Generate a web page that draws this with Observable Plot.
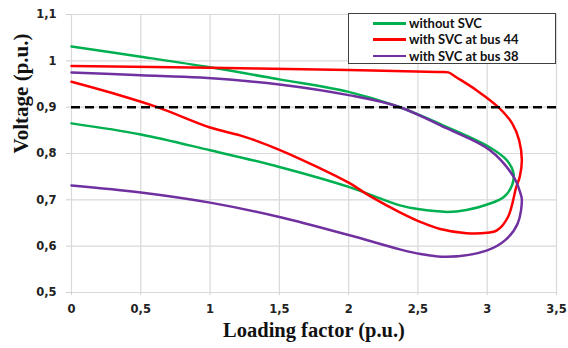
<!DOCTYPE html>
<html><head><meta charset="utf-8">
<script src="https://cdn.jsdelivr.net/npm/d3@7"></script>
<script src="https://cdn.jsdelivr.net/npm/@observablehq/plot@0.6"></script>
<style>
body{margin:0;background:#fff;}
#wrap{position:relative;width:568px;height:348px;}
#legend{position:absolute;left:348px;top:13px;width:206px;height:49px;border:1.5px solid #404040;background:#fff;font:bold 13px Lato, sans-serif;color:#111;}
.row{position:absolute;left:0;height:16px;line-height:16px;white-space:nowrap;}
.sw{position:absolute;left:24px;top:7px;width:33px;height:2.5px;}
.lb{position:absolute;left:60px;top:0;}
</style></head><body><div id="wrap"></div>
<script>
const seriesNames = ["without SVC", "with SVC at bus 44", "with SVC at bus 38"];
const seriesColors = ["#00b050", "#ff0000", "#7030a0"];

// without SVC (upper branch to nose, then lower branch back)
const withoutSvcX = [0, 0.5, 1, 1.5, 2, 2.35, 2.71, 3.02, 3.14, 3.19, 3.18, 3.12, 3.0, 2.85, 2.71, 2.5, 2.37, 2, 1.5, 1, 0.5, 0];
const withoutSvcY = [1.031, 1.009, 0.986, 0.960, 0.933, 0.902, 0.857, 0.813, 0.786, 0.757, 0.732, 0.706, 0.690, 0.678, 0.674, 0.680, 0.688, 0.728, 0.771, 0.807, 0.841, 0.865];

// with SVC at bus 44
const bus44X = [0, 1, 2, 2.64, 2.72, 2.78, 2.92, 3.08, 3.18, 3.23, 3.25, 3.235, 3.21, 3.15, 3.07, 3.0, 2.85, 2.66, 2.52, 2.37, 2.155, 2.0, 1.78, 1.5, 1.25, 1.0, 0.62, 0.3, 0];
const bus44Y = [0.989, 0.985, 0.980, 0.976, 0.975, 0.964, 0.937, 0.900, 0.865, 0.829, 0.786, 0.750, 0.728, 0.663, 0.634, 0.629, 0.628, 0.637, 0.652, 0.673, 0.708, 0.737, 0.770, 0.808, 0.836, 0.856, 0.900, 0.930, 0.955];

// with SVC at bus 38
const bus38X = [0, 0.5, 0.93, 1.5, 2, 2.35, 2.71, 3.02, 3.19, 3.24, 3.25, 3.22, 3.13, 3.0, 2.71, 2.52, 2.37, 2.0, 1.5, 1.0, 0.5, 0];
const bus38Y = [0.975, 0.969, 0.964, 0.949, 0.926, 0.902, 0.854, 0.807, 0.750, 0.714, 0.700, 0.649, 0.613, 0.591, 0.577, 0.583, 0.593, 0.624, 0.663, 0.694, 0.716, 0.731];

const xTicks = [0, 0.5, 1, 1.5, 2, 2.5, 3, 3.5];
const yTicks = [0.5, 0.6, 0.7, 0.8, 0.9, 1.0, 1.1];
const limitVoltage = [0.9];

const toPts = (xs, ys) => xs.map((x, i) => ({x, y: ys[i]}));
const series = [toPts(withoutSvcX, withoutSvcY), toPts(bus44X, bus44Y), toPts(bus38X, bus38Y)];
const fmt = d => String(+d.toFixed(1)).replace(".", ",");

const chart = Plot.plot({
  width: 568, height: 348,
  marginLeft: 71, marginRight: 12, marginTop: 14, marginBottom: 56,
  style: {fontFamily: "DejaVu Sans, sans-serif", fontSize: "11.5px", fontWeight: "bold", color: "#222", background: "#fff"},
  x: {domain: [0, 3.5], ticks: xTicks, tickFormat: fmt, label: null},
  y: {domain: [0.5, 1.1], ticks: yTicks, tickFormat: fmt, label: null},
  marks: [
    Plot.gridX(xTicks, {stroke: "#d9d9d9", strokeOpacity: 1, strokeWidth: 1.2}),
    Plot.gridY(yTicks, {stroke: "#d9d9d9", strokeOpacity: 1, strokeWidth: 1.2}),
    Plot.axisX(xTicks, {tickFormat: fmt, tickSize: 3, tickPadding: 9, stroke: "#d0d0d0", fill: "#222", fontWeight: "bold", label: null}),
    Plot.axisY(yTicks, {tickFormat: fmt, tickSize: 5, tickPadding: 10, stroke: "#d0d0d0", fill: "#222", fontWeight: "bold", label: null}),
    ...series.map((pts, i) => Plot.line(pts, {x: "x", y: "y", stroke: seriesColors[i], strokeWidth: 2.5, curve: "catmull-rom"})),
    Plot.ruleY(limitVoltage, {stroke: "#000", strokeWidth: 2.5, strokeDasharray: "9,5"}),
    Plot.text(["Loading factor (p.u.)"], {frameAnchor: "bottom", dy: 44, fontFamily: "Liberation Serif, serif", fontSize: 20.5, fontWeight: "bold", fill: "#111"}),
    Plot.text(["Voltage (p.u.)"], {frameAnchor: "left", dx: -50, rotate: -90, fontFamily: "Liberation Serif, serif", fontSize: 21, fontWeight: "bold", fill: "#111"})
  ]
});

const wrap = document.getElementById("wrap");
wrap.appendChild(chart);
const lg = document.createElement("div");
lg.id = "legend";
seriesNames.forEach((name, i) => {
  const r = document.createElement("div");
  r.className = "row";
  r.style.top = (1 + i * 16.3) + "px";
  r.style.width = "100%";
  const sw = document.createElement("div");
  sw.className = "sw";
  sw.style.background = seriesColors[i];
  const lb = document.createElement("div");
  lb.className = "lb";
  lb.textContent = name;
  r.appendChild(sw); r.appendChild(lb);
  lg.appendChild(r);
});
wrap.appendChild(lg);
</script>
</body></html>
